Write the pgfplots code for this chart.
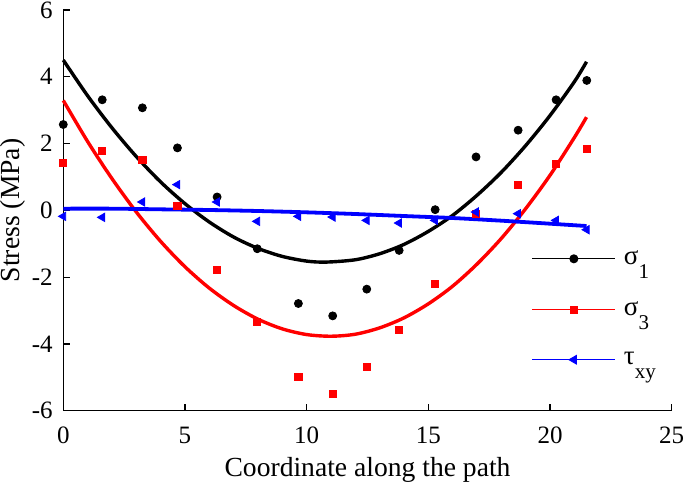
\documentclass[border=0pt]{standalone}
\usepackage{pgfplots}
\pgfplotsset{compat=1.18}
\usepackage{fontspec}
\setmainfont{Liberation Serif}
\definecolor{myred}{RGB}{255,0,0}
\definecolor{myblue}{RGB}{0,0,255}
\newcommand{\sbs}[1]{\smash{\raisebox{-7pt}{\fontsize{10.5}{12}\selectfont #1}}}
\begin{document}
\begin{tikzpicture}
\begin{axis}[
  at={(0,0)}, anchor=south west,
  scale only axis, width=304.2pt, height=200.35pt,
  xmin=0, xmax=25, ymin=-6, ymax=6,
  axis x line*=bottom, axis y line*=left,
  axis line style={line width=0.6pt, -},
  tick align=inside, major tick length=3.3pt,
  tick style={line width=0.6pt, black},
  xtick={0,5,...,25}, ytick={-6,-4,...,6},
  /pgf/number format/assume math mode=true,
  ticklabel style={font=\fontsize{12.5}{14}\selectfont},
  xticklabel style={anchor=base, yshift=-16.65pt},
  yticklabel style={anchor=east, inner xsep=0pt, xshift=-5.15pt},
  label style={font=\fontsize{13.8}{16}\selectfont},
  xlabel={Coordinate along the path},
  ylabel={Stress (MPa)},
  xlabel style={at={(rel axis cs:0.5,0)}, anchor=base, yshift=-33.15pt},
  ylabel style={at={(rel axis cs:0,0.5)}, anchor=center, yshift=25.15pt},
  clip=false,
  legend style={draw=none, fill=none, at={(0.770,0.40)}, anchor=north west,
    inner sep=0pt, outer sep=0pt,
    font=\fontsize{13.5}{16}\selectfont, row sep=17pt,
    nodes={inner sep=0pt},
    /tikz/every odd column/.append style={column sep=4pt}},
  legend cell align=left,
  legend image code/.code={\draw[mark repeat=2,mark phase=2,#1] plot coordinates {(0pt,0pt) (20.8pt,0pt) (41.6pt,0pt)};},
]
% scatter data
\addplot[only marks, mark=*, mark size=2pt, black, forget plot] coordinates {
(0,2.57) (1.60,3.31) (3.25,3.07) (4.69,1.87) (6.32,0.40) (7.97,-1.15) (9.66,-2.79)
(11.07,-3.16) (12.47,-2.36) (13.80,-1.20) (15.28,0.02) (16.96,1.60) (18.69,2.40)
(20.25,3.31) (21.51,3.89)};
\addplot[only marks, mark=square*, mark size=1.8pt, myred, forget plot] coordinates {
(0,1.41) (1.58,1.77) (3.25,1.50) (4.69,0.13) (6.32,-1.78) (7.97,-3.34) (9.66,-4.99)
(11.07,-5.49) (12.47,-4.69) (13.80,-3.57) (15.28,-2.20) (16.96,-0.10) (18.69,0.75)
(20.25,1.38) (21.51,1.83)};
\addplot[only marks, mark=triangle*, mark size=2.4pt, mark options={rotate=90}, myblue, forget plot] coordinates {
(0,-0.18) (1.60,-0.21) (3.25,0.25) (4.69,0.77) (6.32,0.25) (7.97,-0.33) (9.66,-0.18)
(11.07,-0.20) (12.47,-0.30) (13.80,-0.38) (15.28,-0.30) (16.96,-0.05) (18.69,-0.10)
(20.25,-0.30) (21.51,-0.58)};
% fitted curves
\addplot[black, line width=1.7pt, smooth, forget plot] coordinates {
(0,4.50) (1,3.43) (2,2.47) (3,1.61) (4,0.85) (5,0.20) (6,-0.35) (7,-0.80) (8,-1.14)
(9,-1.38) (10,-1.52) (10.8,-1.55) (12,-1.48) (13,-1.30) (14,-1.02) (15,-0.63)
(16,-0.15) (17,0.45) (18,1.14) (19,1.94) (20,2.84) (21,3.85) (21.5,4.45)};
\addplot[myred, line width=1.7pt, smooth, forget plot] coordinates {
(0,3.29) (1,2.06) (2,0.95) (3,-0.05) (4,-0.93) (5,-1.69) (6,-2.33) (7,-2.85) (8,-3.26)
(9,-3.55) (10,-3.72) (11,-3.77) (12,-3.71) (13,-3.52) (14,-3.22) (15,-2.80)
(16,-2.27) (17,-1.61) (18,-0.84) (19,0.05) (20,1.05) (21,2.18) (21.5,2.79)};
\addplot[myblue, line width=1.9pt, smooth, forget plot] coordinates {
(0,0.05) (2,0.05) (4,0.03) (6,0.01) (8,-0.02) (10,-0.06) (12,-0.11) (14,-0.17)
(16,-0.23) (18,-0.31) (20,-0.40) (21.5,-0.47)};
% legend
\addlegendimage{black, line width=0.5pt, mark=*, mark size=2pt}
\addlegendentry{σ\sbs{1}}
\addlegendimage{myred, line width=0.5pt, mark=square*, mark size=1.8pt}
\addlegendentry{σ\sbs{3}}
\addlegendimage{myblue, line width=0.5pt, mark=triangle*, mark size=2.4pt, mark options={rotate=90}}
\addlegendentry{τ\sbs{xy}}
\end{axis}
\pgfresetboundingbox
\path[use as bounding box] (-31.65pt,-37.15pt) rectangle (310.85pt,205.35pt);
\end{tikzpicture}
\end{document}
